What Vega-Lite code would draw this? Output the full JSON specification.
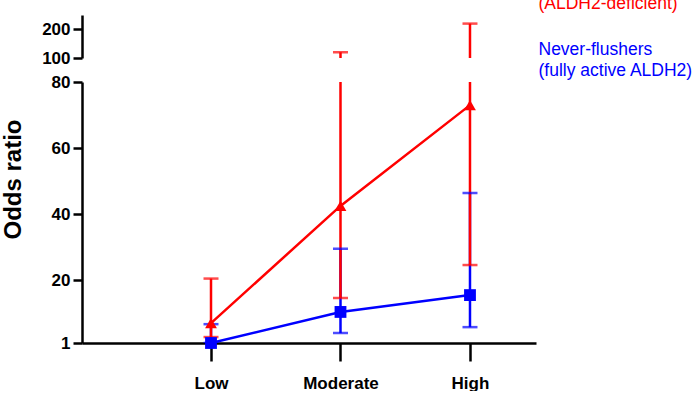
{
  "$schema": "https://vega.github.io/schema/vega-lite/v6.json",
  "background": "white",
  "padding": {"left": 1, "top": -35, "right": 0, "bottom": 0},
  "bounds": "flush",
  "spacing": 24,
  "datasets": {
    "odds": [
      {"group": "Never-flushers", "level": "Low", "or": 1.0, "lo": 1.0, "hi": 6.7},
      {"group": "Never-flushers", "level": "Moderate", "or": 10.4, "lo": 4.0, "hi": 29.5},
      {"group": "Never-flushers", "level": "High", "or": 15.5, "lo": 5.8, "hi": 46.4},
      {"group": "Flushers", "level": "Low", "or": 7.0, "lo": 2.8, "hi": 20.5},
      {"group": "Flushers", "level": "Moderate", "or": 42.5, "lo": 14.6, "hi": 120},
      {"group": "Flushers", "level": "High", "or": 73.0, "lo": 24.6, "hi": 220}
    ]
  },
  "data": {"name": "odds"},
  "vconcat": [
    {
      "width": 454,
      "height": 43,
      "encoding": {
        "x": {"field": "level", "type": "ordinal", "sort": ["Low", "Moderate", "High"],
              "scale": {"type": "point", "domain": ["Low", "Moderate", "High"], "padding": 0.753, "align": 0.6615},
              "axis": null},
        "color": {"field": "group", "type": "nominal",
                  "scale": {"domain": ["Flushers", "Never-flushers"], "range": ["#ff0000", "#0000ff"]}}
      },
      "layer": [
        {
          "mark": {"type": "rule", "clip": true, "strokeWidth": 2.5},
          "encoding": {
            "y": {"field": "lo", "type": "quantitative",
                  "scale": {"domain": [100, 250], "nice": false, "zero": false},
                  "axis": {"values": [100, 200], "title": null, "tickSize": 9, "labelPadding": 3}},
            "y2": {"field": "hi"}
          }
        },
        {
          "transform": [{"filter": "datum.hi >= 100"}],
          "mark": {"type": "tick", "orient": "horizontal", "size": 15, "thickness": 2.5},
          "encoding": {"y": {"field": "hi", "type": "quantitative"}}
        }
      ]
    },
    {
      "width": 454,
      "height": 261,
      "encoding": {
        "x": {"field": "level", "type": "ordinal", "sort": ["Low", "Moderate", "High"],
              "scale": {"type": "point", "domain": ["Low", "Moderate", "High"], "padding": 0.753, "align": 0.6615},
              "axis": {"title": null, "labelAngle": 0, "tickSize": 18, "labelPadding": 14, "labelFontSize": 17}},
        "color": {"field": "group", "type": "nominal",
                  "scale": {"domain": ["Flushers", "Never-flushers"], "range": ["#ff0000", "#0000ff"]},
                  "legend": {
                    "orient": "none", "legendX": 439, "legendY": -50, "title": null,
                    "padding": 0, "symbolSize": 0, "symbolOpacity": 0, "symbolStrokeWidth": 0,
                    "labelOffset": 0, "rowPadding": 19,
                    "labelFont": "Liberation Sans", "labelFontSize": 17.5, "labelFontWeight": "normal",
                    "labelLimit": 0, "labelBaseline": "top",
                    "labelExpr": "datum.value == 'Flushers' ? ['Flushers', '(ALDH2-deficient)'] : ['Never-flushers', '(fully active ALDH2)']",
                    "encode": {"labels": {"update": {"fill": {"scale": "color", "field": "value"}, "lineHeight": {"value": 21}}}}
                  }}
      },
      "layer": [
        {
          "mark": {"type": "rule", "clip": true, "strokeWidth": 2.5},
          "encoding": {
            "y": {"field": "lo", "type": "quantitative",
                  "scale": {"domain": [1, 80], "nice": false, "zero": false},
                  "axis": {"values": [1, 20, 40, 60, 80], "title": "Odds ratio", "tickSize": 9, "labelPadding": 3,
                           "titleX": -62, "titleY": 97, "titleAngle": 270, "titleAlign": "center", "titleBaseline": "alphabetic"}},
            "y2": {"field": "hi"}
          }
        },
        {
          "mark": {"type": "tick", "orient": "horizontal", "size": 15, "thickness": 2.5, "clip": true},
          "encoding": {"y": {"field": "lo", "type": "quantitative"}}
        },
        {
          "transform": [{"filter": "datum.hi <= 80"}],
          "mark": {"type": "tick", "orient": "horizontal", "size": 15, "thickness": 2.5},
          "encoding": {"y": {"field": "hi", "type": "quantitative"}}
        },
        {
          "mark": {"type": "line", "strokeWidth": 2.5},
          "encoding": {"y": {"field": "or", "type": "quantitative"}}
        },
        {
          "mark": {"type": "point", "filled": true, "opacity": 1},
          "encoding": {
            "y": {"field": "or", "type": "quantitative"},
            "shape": {"field": "group", "type": "nominal",
                      "scale": {"domain": ["Flushers", "Never-flushers"], "range": ["triangle-up", "square"]},
                      "legend": null},
            "size": {"value": 140}
          }
        }
      ]
    }
  ],
  "config": {
    "view": {"stroke": null},
    "font": "Liberation Sans",
    "axis": {
      "domainColor": "#000", "domainWidth": 2.5, "tickColor": "#000", "tickWidth": 2.5,
      "labelFont": "Liberation Sans", "labelFontWeight": "bold", "labelFontSize": 17, "labelColor": "#000",
      "grid": false,
      "titleFont": "Liberation Sans", "titleFontWeight": "bold", "titleFontSize": 24, "titleColor": "#000"
    }
  }
}
